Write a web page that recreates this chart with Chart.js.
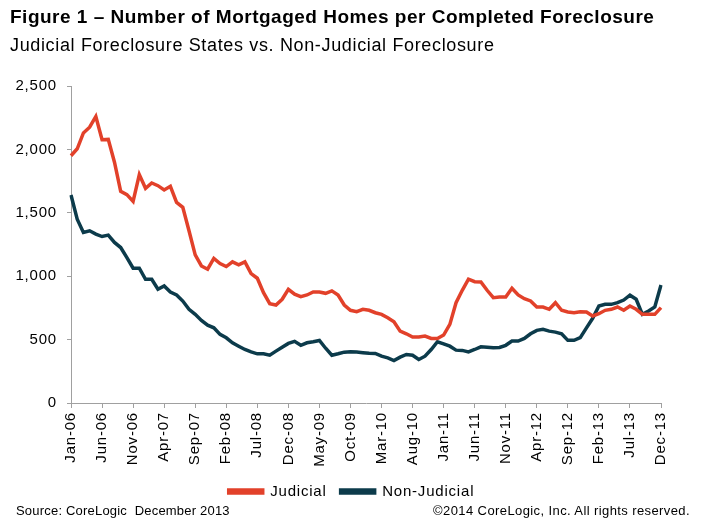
<!DOCTYPE html>
<html>
<head>
<meta charset="utf-8">
<script src="https://cdn.jsdelivr.net/npm/chart.js@4.4.1/dist/chart.umd.min.js"></script>
<style>
  body { margin: 0; background: #fff; font-family: "Liberation Sans", Arial, sans-serif; }
  #wrap { position: relative; width: 710px; height: 529px; overflow: hidden; }
  #chart { position: absolute; left: 0; top: 0; }
  .txt { position: absolute; white-space: pre; color: #000; }
  #title { left: 10px; top: 6px; font-size: 19px; font-weight: bold; line-height: 22px; letter-spacing: 0.5px; }
  #subtitle { left: 10px; top: 34px; font-size: 18px; line-height: 22px; letter-spacing: 0.65px; }
  #source { left: 16px; top: 502px; font-size: 13px; line-height: 18px; letter-spacing: 0.2px; }
  #rights { right: 20px; top: 502px; font-size: 13px; line-height: 18px; letter-spacing: 0.4px; }
</style>
</head>
<body>
<div id="wrap">
  <canvas id="chart" width="710" height="529"></canvas>
  <div class="txt" id="title">Figure 1 – Number of Mortgaged Homes per Completed Foreclosure</div>
  <div class="txt" id="subtitle">Judicial Foreclosure States vs. Non-Judicial Foreclosure</div>
  <div class="txt" id="source">Source: CoreLogic  December 2013</div>
  <div class="txt" id="rights">©2014 CoreLogic, Inc. All rights reserved.</div>
</div>
<script>
const months = [
    'Jan-06','Feb-06','Mar-06','Apr-06','May-06','Jun-06','Jul-06','Aug-06','Sep-06','Oct-06','Nov-06','Dec-06',
    'Jan-07','Feb-07','Mar-07','Apr-07','May-07','Jun-07','Jul-07','Aug-07','Sep-07','Oct-07','Nov-07','Dec-07',
    'Jan-08','Feb-08','Mar-08','Apr-08','May-08','Jun-08','Jul-08','Aug-08','Sep-08','Oct-08','Nov-08','Dec-08',
    'Jan-09','Feb-09','Mar-09','Apr-09','May-09','Jun-09','Jul-09','Aug-09','Sep-09','Oct-09','Nov-09','Dec-09',
    'Jan-10','Feb-10','Mar-10','Apr-10','May-10','Jun-10','Jul-10','Aug-10','Sep-10','Oct-10','Nov-10','Dec-10',
    'Jan-11','Feb-11','Mar-11','Apr-11','May-11','Jun-11','Jul-11','Aug-11','Sep-11','Oct-11','Nov-11','Dec-11',
    'Jan-12','Feb-12','Mar-12','Apr-12','May-12','Jun-12','Jul-12','Aug-12','Sep-12','Oct-12','Nov-12','Dec-12',
    'Jan-13','Feb-13','Mar-13','Apr-13','May-13','Jun-13','Jul-13','Aug-13','Sep-13','Oct-13','Nov-13','Dec-13'
];

const judicial = [
    1950, 2005, 2130, 2175, 2260, 2076, 2079, 1899, 1669, 1643, 1590, 1801,
    1693, 1735, 1714, 1680, 1709, 1582, 1543, 1358, 1168, 1081, 1055, 1140,
    1100, 1076, 1113, 1089, 1113, 1021, 984, 870, 783, 773, 818, 897,
    858, 839, 852, 876, 876, 865, 884, 852, 773, 731, 720, 739,
    731, 712, 699, 672, 641, 567, 546, 520, 520, 528, 509, 509,
    536, 620, 791, 889, 976, 957, 955, 889, 831, 836, 836, 905,
    852, 823, 805, 757, 757, 739, 791, 731, 718, 712, 720, 718,
    686, 704, 731, 739, 757, 731, 765, 739, 699, 699, 699, 752
];

const nonJudicial = [
    1640, 1450, 1345, 1358, 1332, 1313, 1324, 1266, 1226, 1147, 1063, 1063,
    976, 976, 897, 923, 875, 852, 804, 739, 699, 651, 614, 593,
    541, 514, 475, 448, 422, 403, 388, 388, 377, 409, 440, 470,
    486, 455, 475, 483, 493, 432, 377, 388, 401, 405, 402, 397,
    392, 391, 369, 356, 335, 362, 383, 377, 343, 369, 422, 483,
    467, 448, 417, 415, 403, 422, 443, 440, 435, 438, 455, 488,
    488, 509, 546, 573, 581, 567, 559, 546, 494, 494, 515, 593,
    668, 765, 778, 778, 791, 812, 850, 818, 699, 725, 757, 931
];

const yTicks = [0, 500, 1000, 1500, 2000, 2500];
const labelEvery = 5;

const RED = '#E2412A';
const NAVY = '#0C3B4B';
const AXIS = '#A0A0A0';
const FONT = "'Liberation Sans', Arial, sans-serif";

// the original text is set a little wider than the canvas default,
// and its legend sits a bit right of the canvas centre
const tweaks = {
    id: 'tweaks',
    beforeUpdate(chart) { chart.ctx.letterSpacing = '0.8px'; },
    afterLayout(chart) {
        chart.legend.left += 21;
        chart.legend.right += 21;
    },
    beforeDraw(chart) { chart.ctx.letterSpacing = '0.8px'; }
};

new Chart(document.getElementById('chart'), {
    type: 'line',
    data: {
        labels: months,
        datasets: [
            { label: 'Judicial', data: judicial, borderColor: RED, backgroundColor: RED,
              borderWidth: 3.5, pointRadius: 0, tension: 0 },
            { label: 'Non-Judicial', data: nonJudicial, borderColor: NAVY, backgroundColor: NAVY,
              borderWidth: 3.5, pointRadius: 0, tension: 0 }
        ]
    },
    plugins: [tweaks],
    options: {
        responsive: false,
        animation: false,
        layout: { padding: { left: 0, right: 49, top: 86, bottom: 20 } },
        plugins: {
            title: { display: false },
            tooltip: { enabled: false },
            legend: {
                position: 'bottom',
                labels: {
                    boxWidth: 34, boxHeight: 3, padding: 14,
                    color: '#000', font: { family: FONT, size: 15 }
                }
            }
        },
        scales: {
            x: {
                offset: false,
                afterFit: (scale) => { scale.height = 67; },
                grid: { drawOnChartArea: false, drawTicks: true, tickLength: 5, color: AXIS },
                border: { display: true, color: AXIS, width: 1 },
                ticks: {
                    autoSkip: false, maxRotation: 90, minRotation: 90, padding: 4,
                    color: '#000', font: { family: FONT, size: 15 },
                    callback: function (val, index) {
                        return index % labelEvery === 0 ? this.getLabelForValue(val) : null;
                    }
                }
            },
            y: {
                min: yTicks[0], max: yTicks[yTicks.length - 1],
                afterFit: (scale) => { scale.width = 71; },
                afterBuildTicks: (scale) => { scale.ticks = yTicks.map(v => ({ value: v })); },
                grid: { drawOnChartArea: false, drawTicks: true, tickLength: 4, color: AXIS },
                border: { display: true, color: AXIS, width: 1 },
                ticks: {
                    padding: 10, color: '#000', font: { family: FONT, size: 15 },
                    callback: (v) => v.toLocaleString('en-US')
                }
            }
        }
    }
});
</script>
</body>
</html>
